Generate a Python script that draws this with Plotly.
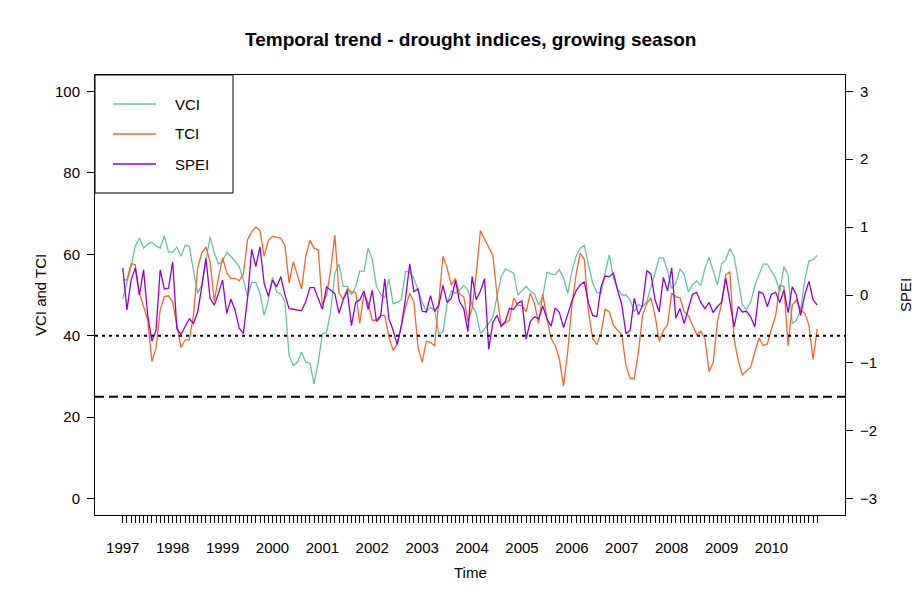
import plotly.graph_objects as go

years = [str(y) for y in range(1997, 2011)]
months_per_year = 12

vci = [49.0, 53.0, 57.0, 62.0, 64.0, 61.5, 62.5, 63.0, 62.0, 61.5, 64.5, 60.5,
       60.5, 61.8, 59.5, 62.2, 62.0, 56.0, 50.4, 52.5, 58.7, 64.3, 60.3, 57.6,
       58.2, 60.5, 59.5, 58.2, 57.0, 53.7, 49.6, 53.1, 53.1, 50.4, 45.0, 48.8,
       54.3, 50.7, 50.2, 48.3, 35.1, 32.7, 33.5, 36.0, 33.5, 33.3, 28.1, 33.5,
       40.5, 40.8, 45.9, 55.4, 57.6, 52.1, 52.1, 50.0, 52.1, 55.9, 55.8, 61.5,
       58.7, 52.1, 50.2, 49.3, 54.0, 47.9, 48.2, 48.8, 55.8, 55.6, 54.1, 51.2,
       48.2, 45.9, 46.9, 46.3, 40.5, 40.9, 47.9, 51.0, 50.4, 51.2, 52.3, 51.2,
       47.5, 45.5, 40.5, 41.7, 43.0, 44.6, 49.6, 54.5, 56.4, 55.8, 55.4, 50.0,
       51.0, 52.1, 51.0, 50.2, 47.5, 49.6, 55.6, 55.1, 55.0, 56.2, 54.1, 50.4,
       55.8, 59.5, 61.5, 62.2, 57.4, 52.9, 50.7, 50.4, 55.4, 59.9, 54.1, 51.5,
       50.0, 50.0, 48.8, 45.9, 47.7, 47.1, 48.3, 51.6, 55.4, 59.1, 59.1, 55.9,
       51.6, 52.9, 56.4, 55.0, 50.8, 52.5, 53.5, 52.3, 56.6, 59.2, 55.8, 52.5,
       57.6, 58.7, 61.4, 59.5, 53.7, 47.5, 46.5, 48.3, 52.3, 55.0, 57.6, 57.6,
       55.8, 54.1, 50.8, 57.0, 55.0, 43.0, 43.8, 46.3, 53.7, 58.4, 58.7, 59.7]

tci = [53.7, 53.7, 57.7, 57.4, 50.5, 47.0, 43.8, 33.7, 37.0, 46.3, 49.6, 49.8,
       48.2, 42.6, 37.1, 39.0, 39.0, 45.0, 56.6, 60.3, 61.8, 58.2, 48.5, 54.1,
       59.2, 55.4, 54.1, 54.1, 53.5, 55.0, 63.6, 65.5, 66.7, 65.8, 59.5, 63.4,
       64.4, 64.2, 63.9, 62.2, 52.9, 58.2, 55.0, 51.5, 59.5, 63.4, 61.5, 61.1,
       47.5, 50.0, 56.2, 64.7, 50.4, 49.0, 51.5, 50.7, 50.7, 43.0, 50.4, 47.9,
       43.8, 43.8, 45.0, 45.0, 39.7, 36.4, 38.0, 42.6, 47.1, 50.4, 48.3, 37.2,
       33.5, 38.6, 38.4, 37.5, 48.3, 59.5, 56.6, 52.5, 54.1, 50.2, 49.6, 43.4,
       46.7, 55.0, 65.8, 63.9, 61.7, 59.7, 50.0, 42.2, 43.2, 43.8, 49.3, 47.5,
       47.4, 45.9, 50.4, 47.9, 43.0, 50.2, 44.2, 39.3, 37.6, 34.3, 27.6, 36.0,
       47.5, 55.0, 60.3, 58.7, 45.9, 39.3, 37.8, 40.5, 46.5, 45.9, 42.6, 41.3,
       40.3, 32.7, 29.5, 29.5, 36.0, 45.0, 47.9, 49.3, 45.0, 38.6, 41.3, 42.7,
       50.4, 49.6, 49.3, 45.9, 45.0, 42.6, 40.3, 41.1, 39.3, 31.2, 33.5, 43.4,
       47.9, 55.0, 55.6, 39.3, 33.9, 30.4, 31.4, 32.3, 36.0, 39.4, 37.6, 38.0,
       41.7, 44.9, 52.3, 52.1, 37.5, 47.5, 48.8, 46.3, 45.5, 42.6, 34.2, 41.7]

spei = [0.40, -0.22, 0.22, 0.40, 0.00, 0.37, -0.30, -0.68, -0.52, 0.37, 0.09, 0.10,
        0.49, -0.50, -0.58, -0.47, -0.35, -0.42, -0.25, 0.12, 0.54, -0.05, -0.15, 0.02,
        0.22, -0.27, -0.06, -0.22, -0.49, -0.57, -0.05, 0.67, 0.42, 0.71, 0.17, -0.02,
        0.22, 0.12, 0.27, 0.00, -0.20, -0.21, -0.22, -0.23, -0.10, 0.11, 0.11, -0.05,
        -0.21, 0.12, 0.07, 0.02, -0.27, -0.07, 0.06, -0.45, -0.11, -0.07, 0.06, -0.21,
        0.07, -0.39, -0.32, 0.24, -0.35, -0.52, -0.73, -0.45, -0.05, 0.46, 0.05, 0.09,
        -0.24, -0.25, -0.01, -0.24, -0.15, 0.14, -0.11, -0.05, 0.21, -0.10, -0.20, -0.54,
        0.27, -0.07, 0.06, 0.24, -0.80, -0.40, -0.30, -0.46, -0.39, -0.20, -0.21, -0.12,
        -0.09, -0.65, -0.39, -0.32, -0.35, -0.16, -0.35, -0.46, -0.19, -0.26, -0.48, -0.27,
        -0.09, 0.06, 0.15, 0.19, -0.12, -0.30, -0.32, 0.12, 0.28, 0.27, 0.32, 0.07,
        -0.14, -0.57, -0.52, -0.05, -0.29, -0.15, 0.36, 0.31, -0.07, -0.25, 0.26, 0.06,
        0.40, -0.34, -0.20, -0.42, -0.21, 0.01, 0.04, -0.11, -0.20, -0.11, -0.26, -0.17,
        -0.11, 0.25, -0.10, -0.47, -0.17, -0.25, -0.24, -0.32, -0.47, 0.05, 0.02, -0.17,
        0.01, 0.04, -0.11, 0.07, -0.26, 0.12, 0.00, -0.30, 0.00, 0.20, -0.07, -0.15]

left_ticks = [0, 20, 40, 60, 80, 100]
right_ticks = [-3, -2, -1, 0, 1, 2, 3]
thresholds = {"dot": 40, "dash": 25}

series_names = ["VCI", "TCI", "SPEI"]
colors = {"VCI": "#66C2A5", "TCI": "#F0682C", "SPEI": "#9400D3"}

n = len(vci)
x = list(range(n))
tick_text = [years[i // months_per_year] if i % months_per_year == 0 else "" for i in x]

FONT = "Liberation Sans, Arial, sans-serif"

fig = go.Figure()
fig.add_trace(go.Scatter(x=x, y=vci, mode="lines", name="VCI",
                         line=dict(color=colors["VCI"], width=1.3), yaxis="y"))
fig.add_trace(go.Scatter(x=x, y=tci, mode="lines", name="TCI",
                         line=dict(color=colors["TCI"], width=1.3), yaxis="y"))
fig.add_trace(go.Scatter(x=x, y=spei, mode="lines", name="SPEI",
                         line=dict(color=colors["SPEI"], width=1.3), yaxis="y2"))

# page body has an 8px margin: figure is sized/placed to compensate
PAGE_OFF = 8
W, H = 923 - PAGE_OFF, 609 - PAGE_OFF
BOX_L, BOX_R, BOX_T, BOX_B = 95, 845, 75, 515

ext = 0.04 * (n - 1)
ylo, yhi = -4.0, 104.0
fig.update_layout(
    width=W, height=H,
    margin=dict(l=BOX_L - PAGE_OFF, r=W - (BOX_R - PAGE_OFF), t=BOX_T - PAGE_OFF, b=H - (BOX_B - PAGE_OFF)),
    paper_bgcolor="white", plot_bgcolor="white",
    showlegend=False,
    font=dict(family=FONT, size=15, color="black"),
    xaxis=dict(range=[-ext, n - 1 + ext], tickmode="array", tickvals=x, ticktext=tick_text,
               ticks="outside", ticklen=7, tickcolor="black", tickwidth=1,
               showgrid=False, zeroline=False, showline=True, mirror=True,
               linecolor="black", linewidth=1, ticklabelstandoff=12,
               tickfont=dict(size=15)),
    yaxis=dict(range=[ylo, yhi], tickmode="array", tickvals=left_ticks,
               ticks="outside", ticklen=7, tickcolor="black",
               showgrid=False, zeroline=False, showline=True, mirror=True,
               linecolor="black", linewidth=1, ticklabelstandoff=4,
               tickfont=dict(size=15)),
    yaxis2=dict(range=[(ylo - 50) / (50 / 3), (yhi - 50) / (50 / 3)], overlaying="y", side="right",
                tickmode="array", tickvals=right_ticks,
                ticks="outside", ticklen=7, tickcolor="black",
                showgrid=False, zeroline=False, showline=True,
                linecolor="black", linewidth=1, ticklabelstandoff=4,
                tickfont=dict(size=15)),
)

fig.add_shape(type="line", xref="paper", yref="y", x0=0, x1=1,
              y0=thresholds["dot"], y1=thresholds["dot"],
              line=dict(color="black", width=2, dash="3px,4px"))
fig.add_shape(type="line", xref="paper", yref="y", x0=0, x1=1,
              y0=thresholds["dash"], y1=thresholds["dash"],
              line=dict(color="black", width=2, dash="9px,5px"))


def px(xp):
    return (xp - BOX_L) / float(BOX_R - BOX_L)


def py(yp):
    return (BOX_B - yp) / float(BOX_B - BOX_T)


fig.add_shape(type="rect", xref="paper", yref="paper", x0=px(95), x1=px(233),
              y0=py(193), y1=py(75), line=dict(color="black", width=1),
              fillcolor="white", layer="above")
for k, name in enumerate(series_names):
    yy = 104 + 30 * k
    fig.add_shape(type="line", xref="paper", yref="paper", x0=px(113), x1=px(156),
                  y0=py(yy), y1=py(yy), line=dict(color=colors[name], width=1.3), layer="above")
    fig.add_annotation(xref="paper", yref="paper", x=px(173), y=py(yy), text=name,
                       showarrow=False, xanchor="left", yanchor="middle",
                       font=dict(size=15, family=FONT))

fig.add_annotation(xref="paper", yref="paper", x=0.5, y=py(40),
                   text="<b>Temporal trend - drought indices, growing season</b>",
                   showarrow=False, xanchor="center", yanchor="middle", font=dict(size=19, family=FONT))
fig.add_annotation(xref="paper", yref="paper", x=0.5, y=py(572), text="Time",
                   showarrow=False, xanchor="center", yanchor="middle", font=dict(size=15, family=FONT))
fig.add_annotation(xref="paper", yref="paper", x=px(40), y=0.5, text="VCI and TCI", textangle=-90,
                   showarrow=False, xanchor="center", yanchor="middle", font=dict(size=15, family=FONT))
fig.add_annotation(xref="paper", yref="paper", x=px(905), y=0.5, text="SPEI", textangle=-90,
                   showarrow=False, xanchor="center", yanchor="middle", font=dict(size=15, family=FONT))

fig.write_html("out.html")
